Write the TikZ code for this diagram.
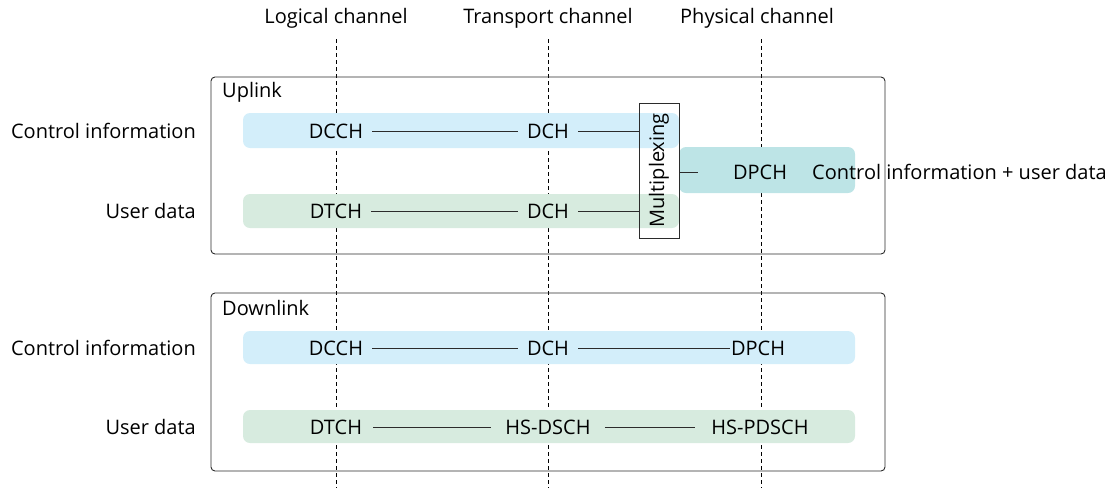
\documentclass[tikz,border=0pt]{standalone}
\usepackage{fontspec}
\setmainfont{Open Sans}
\definecolor{bandblue}{HTML}{D3EEFA}
\definecolor{bandgreen}{HTML}{D7EBDF}
\definecolor{bandteal}{HTML}{BDE4E6}
\definecolor{frame}{HTML}{2B2B2B}
\tikzset{
  txt/.style={font=\fontsize{20}{24}\selectfont, inner xsep=9pt, inner ysep=2pt},
  band/.style={rounded corners=7pt, inner sep=0pt},
  groupbox/.style={draw=frame, line width=0.9pt, rounded corners=4pt},
  guide/.style={draw=black, line width=0.8pt, dash pattern=on 4pt off 3pt},
  conn/.style={draw=frame, line width=0.9pt},
}
\begin{document}
\begin{tikzpicture}[x=1pt,y=-1pt]
\useasboundingbox (0,0) rectangle (1114,488);
% headers
\node[txt] (hlog) at (336,18) {Logical channel};
\node[txt] (htra) at (548,18) {Transport channel};
\node[txt] (hphy) at (757,18) {Physical channel};
\coordinate (g1t) at (336,39); \coordinate (g1b) at (336,488);
\coordinate (g2t) at (548,39); \coordinate (g2b) at (548,488);
\coordinate (g3t) at (761,39); \coordinate (g3b) at (761,488);
\draw[guide] (g1t) -- (g1b);
\draw[guide] (g2t) -- (g2b);
\draw[guide] (g3t) -- (g3b);
% group boxes
\draw[groupbox] (211,77) rectangle (885,254);
\draw[groupbox] (211,293) rectangle (885,471);
% bands
\node[band, fill=bandblue, minimum width=436pt, minimum height=35pt] (ubb) at (461,130.5) {};
\node[band, fill=bandgreen, minimum width=436pt, minimum height=34pt] (ubg) at (461,211) {};
\node[band, fill=bandteal, minimum width=176pt, minimum height=46pt] (ubt) at (767,170) {};
\node[band, fill=bandblue, minimum width=612pt, minimum height=33pt] (dbb) at (549,347.5) {};
\node[band, fill=bandgreen, minimum width=612pt, minimum height=33pt] (dbg) at (549,426.5) {};
% group labels
\node[txt, anchor=west, inner xsep=0pt] (lup) at (222,92) {Uplink};
\node[txt, anchor=west, inner xsep=0pt] (ldown) at (222,308) {Downlink};
% row labels
\node[txt, anchor=east, inner xsep=0pt] (rc1) at (196,131) {Control information};
\node[txt, anchor=east, inner xsep=0pt] (ru1) at (196,211) {User data};
\node[txt, anchor=east, inner xsep=0pt] (rc2) at (196,348) {Control information};
\node[txt, anchor=east, inner xsep=0pt] (ru2) at (196,427) {User data};
% uplink
\node[txt] (udcch) at (336,131) {DCCH};
\node[txt] (udch1) at (548,131) {DCH};
\node[txt] (udtch) at (336,211) {DTCH};
\node[txt] (udch2) at (548,211) {DCH};
\node[draw=frame, line width=0.9pt, minimum width=40pt, minimum height=135pt, inner sep=0pt,
      font=\fontsize{20}{24}\selectfont] (mux) at (659,170.5) {\rotatebox{90}{Multiplexing}};
\node[txt] (udpch) at (760,172) {DPCH};
\node[txt, anchor=west, inner xsep=0pt] (cplus) at (812,172) {Control information + user data};
\coordinate (muxout) at (698,172);
\draw[conn] (udcch) -- (udch1);
\draw[conn] (udtch) -- (udch2);
\draw[conn] (udch1.east) -- (udch1.east -| mux.west);
\draw[conn] (udch2.east) -- (udch2.east -| mux.west);
\draw[conn] (mux.east |- muxout) -- (muxout);
% downlink
\node[txt] (ddcch) at (336,348) {DCCH};
\node[txt] (ddch) at (548,348) {DCH};
\node[txt, inner xsep=0.5pt] (ddpch) at (758,348) {DPCH};
\node[txt, inner xsep=11pt] (ddtch) at (336,427) {DTCH};
\node[txt, inner xsep=14pt] (dhsdsch) at (548,427) {HS-DSCH};
\node[txt, inner xsep=16pt] (dhspdsch) at (760,427) {HS-PDSCH};
\draw[conn] (ddcch) -- (ddch);
\draw[conn] (ddch) -- (ddpch);
\draw[conn] (ddtch) -- (dhsdsch);
\draw[conn] (dhsdsch) -- (dhspdsch);
\end{tikzpicture}
\end{document}
